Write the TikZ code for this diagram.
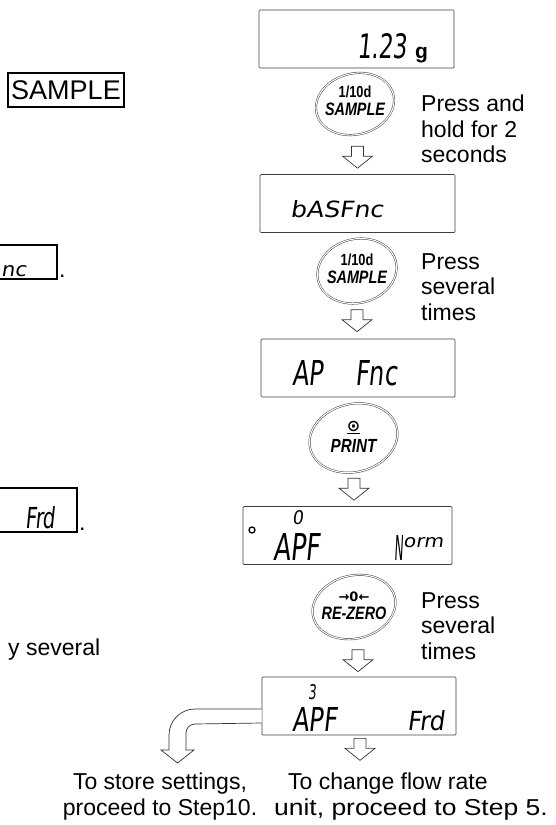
\documentclass[tikz,border=0pt]{standalone}
\usepackage{fontspec}
\usepackage{graphicx}
\setmainfont{Liberation Sans}
\newfontfamily\segfont[FakeSlant=0.15]{DejaVu Sans}
\newfontfamily\keyfont[FakeStretch=0.8]{Liberation Sans}
\newfontfamily\symbfont{DejaVu Sans}
\newcommand{\segtext}[3]{\resizebox{#1}{#2}{\segfont #3}}
\usetikzlibrary{calc, positioning, shapes.geometric}

\begin{document}
\begin{tikzpicture}[
  x=1pt, y=-1pt,
  lcd/.style={draw=black!75, line width=0.7pt, rounded corners=1pt, rectangle, minimum width=#1, minimum height=58pt, inner sep=0pt},
  lcd/.default=195pt,
  keyring/.style={draw=black!80, double, double distance=1.1pt, line width=0.45pt, ellipse, inner sep=0pt, rotate=14},
  keytext/.style={font=\keyfont\bfseries, align=center, inner sep=0pt},
  seg/.style={anchor=base west, inner sep=0pt},
  note/.style={anchor=north west, align=left, inner sep=0pt, font=\fontsize{23}{25.5}\selectfont},
  tagbox/.style={draw, line width=1.4pt, inner sep=0pt},
  hollow/.style={draw=black!80, line width=0.7pt, fill=white},
  hollowdown/.pic={\draw[hollow] (0,0) -- (15,-12) -- (6,-12) -- (6,-22) -- (-6,-22) -- (-6,-12) -- (-15,-12) -- cycle;}
]
\useasboundingbox (0,0) rectangle (555,825);

% left column fragments
\node[tagbox, minimum width=116pt, minimum height=34pt, font=\fontsize{27}{27}\selectfont] (samplebox) at (66,90) {SAMPLE};
\node[tagbox, minimum width=72pt, minimum height=34pt] (ncbox) at (21,262) {};
\node[seg] (nctext) at (1,276) {\segtext{25pt}{11pt}{nc}};
\node[seg, font=\fontsize{23}{23}\selectfont] (ncdot) at (59,277) {.};
\node[tagbox, minimum width=87pt, minimum height=44pt] (frdbox) at (33.5,510) {};
\node[seg] (frdtext) at (25,528) {\segtext{30pt}{22pt}{Frd}};
\node[seg, font=\fontsize{23}{23}\selectfont] (frddot) at (79,530) {.};
\node[seg, font=\fontsize{23}{23}\selectfont] (several) at (8,655) {y several};

% displays
\node[lcd] (lcd1) at (356.5,39) {};
\node[lcd] (lcd2) at (357.5,203.5) {};
\node[lcd=194pt] (lcd3) at (358,368) {};
\node[lcd=209pt] (lcd4) at (347.5,535.5) {};
\node[lcd=194pt] (lcd5) at (359,706) {};

\node[seg] (w1) at (357,58) {\segtext{50pt}{25pt}{1.23}};
\node[seg, font=\fontsize{21}{21}\selectfont\bfseries] (w1u) at (415,58) {g};
\node[seg] (w2) at (290,217) {\segtext{93pt}{17pt}{bASFnc}};
\node[seg] (w3a) at (292,385) {\segtext{31pt}{25pt}{AP}};
\node[seg] (w3b) at (355,385) {\segtext{42pt}{25pt}{Fnc}};
\filldraw[fill=white, line width=1.3pt] (252,530) circle (3);
\node[seg] (w4n) at (292,524) {\segtext{11pt}{14pt}{0}};
\node[seg] (w4a) at (273,560) {\segtext{47pt}{27pt}{APF}};
\node[seg] (w4b) at (394,560) {\segtext{9pt}{25pt}{N}};
\node[seg] (w4c) at (403,547) {\segtext{40pt}{10pt}{orm}};
\node[seg] (w5n) at (308,699) {\segtext{8pt}{15pt}{3}};
\node[seg] (w5a) at (292,731) {\segtext{45pt}{24pt}{APF}};
\node[seg] (w5b) at (407,730) {\segtext{37pt}{20pt}{Frd}};

% keys
\node[keyring, minimum width=79pt, minimum height=61pt] (key1) at (355,104) {};
\node[keytext] (key1t) at ([yshift=3pt]key1.center) {{\fontsize{16}{16}\selectfont 1/10d}\\[4pt]{\fontsize{18}{18}\selectfont\itshape SAMPLE}};
\node[keyring, minimum width=80pt, minimum height=64pt] (key2) at (357,271) {};
\node[keytext] (key2t) at ([yshift=2pt]key2.center) {{\fontsize{16}{16}\selectfont 1/10d}\\[4pt]{\fontsize{18}{18}\selectfont\itshape SAMPLE}};
\node[keyring, minimum width=89pt, minimum height=68pt] (key3) at (353.5,438) {};
\node[keytext] (key3t) at ([yshift=1pt]key3.center) {{\symbfont\fontsize{16}{16}\selectfont\underline{⊙}}\\[4pt]{\fontsize{19}{19}\selectfont\itshape PRINT}};
\node[keyring, minimum width=84pt, minimum height=63pt] (key4) at (354,607) {};
\node[keytext] (key4t) at ([yshift=1pt]key4.center) {{\symbfont\fontsize{13}{13}\selectfont →0←}\\[4pt]{\fontsize{18}{18}\selectfont\itshape RE-ZERO}};

% notes
\node[note] (hold) at (421,95) {Press and\\hold for 2\\seconds};
\node[note] (times1) at (421,253) {Press\\several\\times};
\node[note] (times2) at (421,592) {Press\\several\\times};

% arrows
\pic at ($(lcd2.north)+(0,-6)$) {hollowdown};
\pic at ($(lcd3.north)+(-1,-7)$) {hollowdown};
\pic at ($(lcd4.north)+(6.5,-6)$) {hollowdown};
\pic at ($(lcd5.north)+(-1,-5)$) {hollowdown};
\pic at ($(lcd5.south)+(1,25)$) {hollowdown};
\draw[hollow] ([yshift=-3pt]lcd5.west) -- (195,709) arc[start angle=270, end angle=180, radius=26]
  -- (169,750) -- (161,750) -- (177.5,763) -- (194,750) -- (186,750) -- (186,733)
  arc[start angle=180, end angle=270, radius=9] -- ([yshift=-17pt]lcd5.west);

% outcomes
\node[anchor=north, align=center, inner sep=0pt, font=\fontsize{23}{25.5}\selectfont] (store) at (160,773) {To store settings,\\proceed to Step10.};
\node[note] (flow) at (274,773) {\hspace*{14pt}To change flow rate\\\scalebox{1.15}[1]{unit, proceed to Step 5.}};
\end{tikzpicture}
\end{document}
